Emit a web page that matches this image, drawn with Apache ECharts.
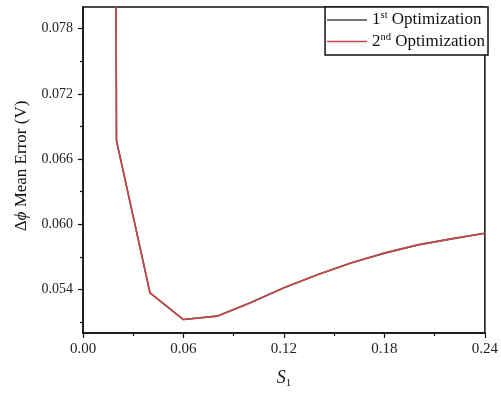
<!DOCTYPE html>
<html>
<head>
<meta charset="utf-8">
<script src="https://cdn.jsdelivr.net/npm/echarts@6/dist/echarts.min.js"></script>
<style>
  html, body { margin: 0; padding: 0; background: #fff; }
  #chart { width: 501px; height: 394px; }
</style>
</head>
<body>
<div id="chart"></div>
<script>
// S1 sweep values and mean error of the phase difference (V)
const s1Values = [0.00, 0.02, 0.04, 0.06, 0.08, 0.10, 0.12, 0.14, 0.16, 0.18, 0.20, 0.22, 0.24];
const firstOptError = [1.0, 0.0677, 0.0537, 0.05124, 0.05155, 0.05279, 0.05416, 0.05537, 0.05644, 0.05735, 0.05811, 0.05866, 0.05918];
const secondOptError = [1.0, 0.0677, 0.0537, 0.05124, 0.05155, 0.05279, 0.05416, 0.05537, 0.05644, 0.05735, 0.05811, 0.05866, 0.05918];
const seriesNames = ['1st Optimization', '2nd Optimization'];
const yMajorTicks = [0.054, 0.060, 0.066, 0.072, 0.078];
const yMinorTicks = [0.051, 0.057, 0.063, 0.069, 0.075];

const serif = 'Liberation Serif, Times New Roman, serif';
const ink = '#111';

const pairs = arr => s1Values.map((x, i) => [x, arr[i]]);

const chart = echarts.init(document.getElementById('chart'), null, { renderer: 'canvas' });

chart.setOption({
  animation: false,
  backgroundColor: '#fff',
  grid: {
    left: 83, right: 13, top: 7, bottom: 61,
    show: true, borderColor: ink, borderWidth: 1.5, backgroundColor: 'transparent'
  },
  legend: {
    orient: 'vertical',
    right: 13, top: 7,
    data: seriesNames,
    icon: 'rect',
    itemWidth: 40, itemHeight: 1.6, itemGap: 3,
    padding: [3, 3, 5, 2],
    borderColor: ink, borderWidth: 1.5,
    backgroundColor: '#fff',
    formatter: name => {
      const m = name.match(/^(\d)(st|nd)\s(.*)$/);
      return '{n|' + m[1] + '}{s|' + m[2] + '}{n| ' + m[3] + '}';
    },
    textStyle: {
      fontFamily: serif, color: ink, fontSize: 17,
      rich: {
        n: { fontFamily: serif, fontSize: 17, color: ink, lineHeight: 20 },
        s: { fontFamily: serif, fontSize: 10.5, color: ink, verticalAlign: 'top', lineHeight: 20 }
      }
    }
  },
  xAxis: {
    type: 'value', min: 0, max: 0.24, interval: 0.06,
    axisLine: { show: true, lineStyle: { color: ink, width: 1.5 } },
    axisTick: { show: true, inside: false, length: 5, lineStyle: { color: ink, width: 1.2 } },
    minorTick: { show: true, splitNumber: 2, length: 3, lineStyle: { color: ink, width: 1.2 } },
    splitLine: { show: false },
    axisLabel: {
      margin: 9, fontFamily: serif, fontSize: 15, color: '#222',
      formatter: v => v.toFixed(2)
    },
    name: '{i|S}{b|1}',
    nameLocation: 'middle', nameGap: 34,
    nameTextStyle: {
      rich: {
        i: { fontFamily: serif, fontStyle: 'italic', fontSize: 18, color: ink, lineHeight: 22 },
        b: { fontFamily: serif, fontSize: 11, color: ink, verticalAlign: 'bottom', lineHeight: 22 }
      }
    }
  },
  yAxis: [
    {
      type: 'value', min: 0.05, max: 0.08,
      axisLine: { show: true, lineStyle: { color: ink, width: 1.5 } },
      axisTick: { show: true, inside: false, length: 5, customValues: yMajorTicks, lineStyle: { color: ink, width: 1.2 } },
      splitLine: { show: false },
      axisLabel: {
        margin: 10, fontFamily: serif, fontSize: 14, color: '#222',
        customValues: yMajorTicks,
        formatter: v => v.toFixed(3)
      },
      name: '{d|Δ}{p|ϕ}{t| Mean Error (V)}',
      nameLocation: 'middle', nameGap: 53,
      nameTextStyle: {
        padding: [0, 0, 0, 8],
        rich: {
          d: { fontFamily: serif, fontSize: 17, color: ink },
          p: { fontFamily: serif, fontStyle: 'italic', fontSize: 17, color: ink },
          t: { fontFamily: serif, fontSize: 17, color: ink }
        }
      }
    },
    {
      type: 'value', min: 0.05, max: 0.08, position: 'left',
      axisLine: { show: false },
      axisTick: { show: true, inside: false, length: 3, customValues: yMinorTicks, lineStyle: { color: ink, width: 1.2 } },
      splitLine: { show: false },
      axisLabel: { show: false }
    }
  ],
  series: [
    {
      name: seriesNames[0], type: 'line', data: pairs(firstOptError),
      symbol: 'none', clip: true,
      lineStyle: { color: '#444', width: 1.6 }, itemStyle: { color: '#444' }
    },
    {
      name: seriesNames[1], type: 'line', data: pairs(secondOptError),
      symbol: 'none', clip: true,
      lineStyle: { color: '#c8484a', width: 1.6 }, itemStyle: { color: '#c8484a' }
    }
  ]
});
</script>
</body>
</html>
